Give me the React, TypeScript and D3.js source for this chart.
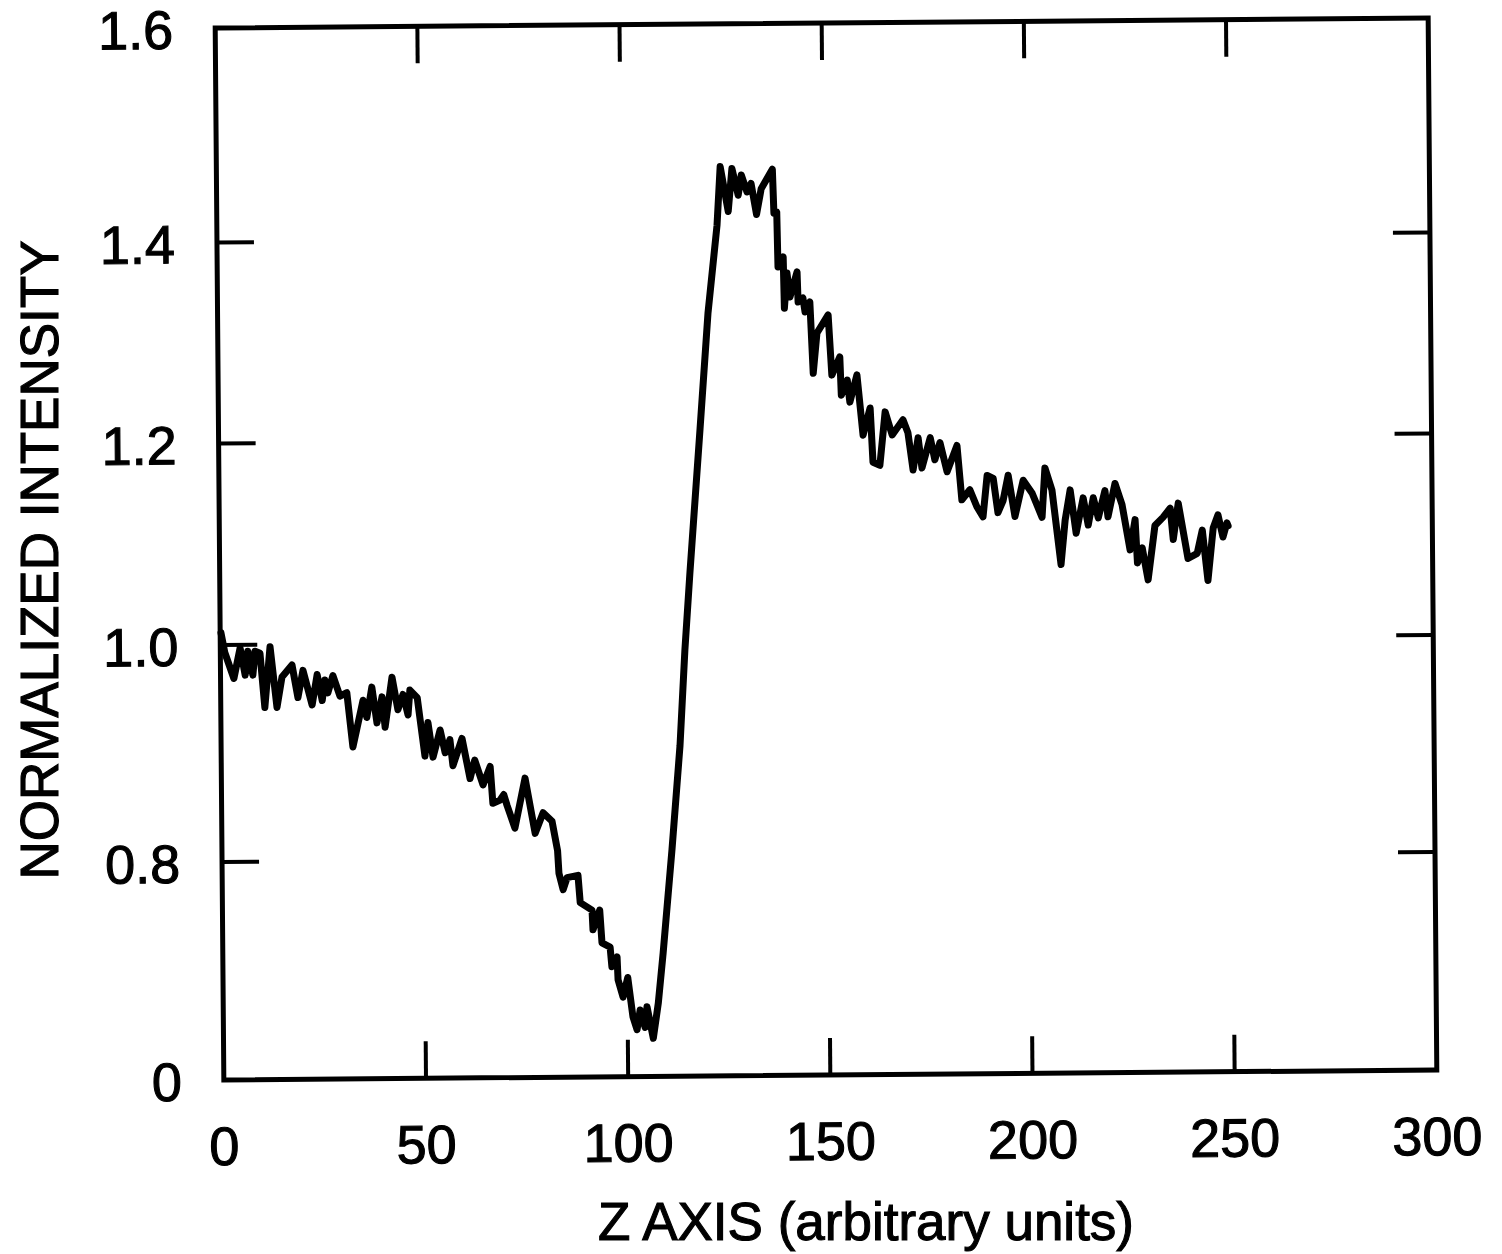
import React from 'react';
import * as d3 from 'd3';

const zAxis = [
  0.2, 1.1, 3.3, 4.9, 6.1, 6.8, 8.0, 8.6, 9.8, 10.9, 12.3, 13.9, 15.2, 17.7, 19.1, 20.4, 22.6, 23.9, 25.1, 25.8,
  26.5, 27.8, 29.5, 31.2, 32.6, 35.2, 36.1, 37.4, 38.6, 39.9, 40.6, 42.4, 43.8, 45.1, 46.3, 46.8, 48.6, 50.4, 51.2, 52.4,
  54.2, 55.4, 56.6, 57.3, 59.6, 61.5, 62.7, 64.7, 66.5, 67.1, 68.9, 69.8, 70.6, 72.5, 75.1, 77.5, 79.5, 81.7, 83.0, 83.3,
  84.3, 85.3, 88.0, 88.5, 91.4, 91.6, 93.3, 93.8, 95.8, 96.2, 97.5, 97.7, 98.9, 100.1, 101.3, 102.3, 103.1, 104.3, 104.8, 106.3,
  107.6, 108.9, 111.3, 113.5, 114.9, 116.3, 119.1, 121.3, 123.7, 124.6, 126.5, 127.5, 129.0, 129.8, 131.2, 132.2, 133.5, 134.7, 137.5, 137.8,
  138.5, 138.7, 140.0, 140.2, 140.9, 141.6, 143.4, 143.6, 144.8, 145.3, 146.5, 147.2, 148.2, 151.0, 151.8, 153.8, 154.1, 155.6, 156.2, 158.0,
  159.4, 161.2, 161.8, 163.5, 164.9, 166.6, 169.3, 170.5, 171.7, 173.0, 173.9, 176.0, 177.1, 178.4, 180.1, 182.6, 183.7, 185.7, 187.4, 188.9,
  190.0, 191.5, 192.6, 193.9, 195.2, 196.8, 198.9, 201.1, 203.5, 204.3, 206.0, 208.1, 209.2, 210.5, 211.9, 213.7, 214.9, 216.2, 217.4, 219.1,
  219.8, 221.6, 223.3, 225.2, 226.5, 227.0, 228.2, 229.6, 231.4, 233.4, 235.2, 235.9, 237.2, 239.5, 241.8, 243.1, 244.4, 245.8, 247.0, 248.2,
  249.2, 249.5,
];

const intensity = [
  1.012, 0.993, 0.969, 0.997, 0.972, 0.994, 0.972, 0.994, 0.992, 0.942, 0.998, 0.942, 0.970, 0.981, 0.951, 0.976, 0.944, 0.972, 0.948, 0.967,
  0.955, 0.971, 0.952, 0.955, 0.905, 0.948, 0.932, 0.960, 0.927, 0.951, 0.923, 0.969, 0.939, 0.953, 0.934, 0.957, 0.950, 0.896, 0.927, 0.895,
  0.920, 0.899, 0.911, 0.887, 0.912, 0.875, 0.892, 0.869, 0.886, 0.852, 0.855, 0.860, 0.850, 0.829, 0.875, 0.824, 0.843, 0.835, 0.808, 0.787,
  0.772, 0.783, 0.785, 0.760, 0.753, 0.735, 0.753, 0.723, 0.719, 0.701, 0.710, 0.689, 0.673, 0.691, 0.655, 0.643, 0.661, 0.645, 0.664, 0.635,
  0.667, 0.713, 0.808, 0.904, 0.992, 1.068, 1.211, 1.326, 1.412, 1.467, 1.425, 1.465, 1.440, 1.459, 1.443, 1.451, 1.422, 1.446, 1.464, 1.423,
  1.424, 1.371, 1.381, 1.330, 1.365, 1.341, 1.366, 1.336, 1.340, 1.326, 1.336, 1.265, 1.305, 1.323, 1.263, 1.281, 1.243, 1.258, 1.236, 1.263,
  1.203, 1.230, 1.176, 1.173, 1.226, 1.203, 1.218, 1.205, 1.168, 1.200, 1.170, 1.200, 1.178, 1.195, 1.166, 1.192, 1.138, 1.148, 1.131, 1.121,
  1.162, 1.159, 1.125, 1.137, 1.162, 1.121, 1.157, 1.144, 1.120, 1.169, 1.147, 1.073, 1.117, 1.147, 1.104, 1.139, 1.112, 1.139, 1.119, 1.146,
  1.120, 1.153, 1.132, 1.087, 1.117, 1.074, 1.089, 1.057, 1.111, 1.119, 1.128, 1.097, 1.133, 1.078, 1.083, 1.106, 1.056, 1.108, 1.121, 1.099,
  1.113, 1.110,
];

const xTickValues = [0, 50, 100, 150, 200, 250, 300];
const xTickLabels = ['0', '50', '100', '150', '200', '250', '300'];
const xInnerTicks = [50, 100, 150, 200, 250];
const yTickValues = [0.6, 0.8, 1.0, 1.2, 1.4, 1.6];
const yTickLabels = ['0', '0.8', '1.0', '1.2', '1.4', '1.6'];
const yInnerTicks = [0.8, 1.0, 1.2, 1.4];
const xTitle = 'Z AXIS (arbitrary units)';
const yTitle = 'NORMALIZED INTENSITY';

export default function App() {
  const W = 1502;
  const H = 1254;
  const left = 219.5;
  const right = 1432.5;
  const top = 23;
  const bottom = 1075;
  const cx = (left + right) / 2;
  const cy = (top + bottom) / 2;

  const x = d3.scaleLinear().domain([0, 300]).range([left, right]);
  const y = d3
    .scaleLinear()
    .domain(yTickValues)
    .range([bottom, 857, 640, 438.5, 237.5, top]);

  const pts: [number, number][] = zAxis.map((z, i) => [z, intensity[i]]);
  const line = d3
    .line<[number, number]>()
    .x((d) => x(d[0]))
    .y((d) => y(d[1]));

  const font = "'Liberation Sans', Arial, Helvetica, sans-serif";
  const tickLen = 37;
  const textStroke = { stroke: '#000', strokeWidth: 1.1 };

  return (
    <svg
      width={W}
      height={H}
      viewBox={`0 0 ${W} ${H}`}
      style={{ position: 'absolute', left: 0, top: 0, background: '#fff' }}
    >
      <rect x={0} y={0} width={W} height={H} fill="#fff" />
      <g transform={`rotate(-0.47 ${cx} ${cy})`}>
        <rect
          x={left}
          y={top}
          width={right - left}
          height={bottom - top}
          fill="none"
          stroke="#000"
          strokeWidth={5}
        />
        {xInnerTicks.map((t) => (
          <g key={`xt${t}`}>
            <line x1={x(t)} x2={x(t)} y1={bottom} y2={bottom - tickLen} stroke="#000" strokeWidth={4} />
            <line x1={x(t)} x2={x(t)} y1={top} y2={top + tickLen} stroke="#000" strokeWidth={4} />
          </g>
        ))}
        {yInnerTicks.map((t) => (
          <g key={`yt${t}`}>
            <line x1={left} x2={left + tickLen} y1={y(t)} y2={y(t)} stroke="#000" strokeWidth={4} />
            <line x1={right} x2={right - tickLen} y1={y(t)} y2={y(t)} stroke="#000" strokeWidth={4} />
          </g>
        ))}
        {xTickValues.map((t, i) => (
          <text
            key={`xl${t}`}
            x={x(t)}
            y={bottom + 85}
            textAnchor="middle"
            fontFamily={font}
            fontSize={54}
            fill="#000"
            {...textStroke}
          >
            {xTickLabels[i]}
          </text>
        ))}
        {yTickValues.map((t, i) => (
          <text
            key={`yl${t}`}
            x={left - 42}
            y={y(t)}
            dy="0.38em"
            textAnchor="end"
            fontFamily={font}
            fontSize={54}
            fill="#000"
            {...textStroke}
          >
            {yTickLabels[i]}
          </text>
        ))}
        <path
          d={line(pts) || ''}
          fill="none"
          stroke="#000"
          strokeWidth={7}
          strokeLinejoin="round"
          strokeLinecap="round"
        />
      </g>
      <text
        x={866}
        y={1240}
        textAnchor="middle"
        fontFamily={font}
        fontSize={53}
        fill="#000"
        {...textStroke}
      >
        {xTitle}
      </text>
      <text
        transform={`translate(58 560) rotate(-90)`}
        textAnchor="middle"
        fontFamily={font}
        fontSize={53}
        fill="#000"
        {...textStroke}
      >
        {yTitle}
      </text>
    </svg>
  );
}
